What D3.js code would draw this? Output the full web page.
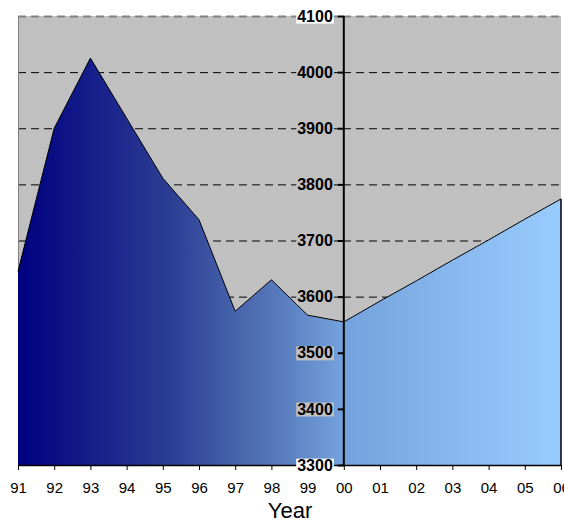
<!DOCTYPE html>
<html>
<head>
<meta charset="utf-8">
<script src="https://cdn.jsdelivr.net/npm/d3@7"></script>
<style>
  html, body { margin: 0; padding: 0; background: #fff; }
  svg { display: block; font-family: Arial, "Liberation Sans", sans-serif; }
</style>
</head>
<body>
<svg id="chart" width="564" height="522"></svg>
<script>
// Yearly values, 1991–2006
const years = ["91","92","93","94","95","96","97","98","99","00","01","02","03","04","05","06"];
const values = [3645, 3900, 4025, 3918, 3811, 3737, 3574, 3630, 3567, 3555, 3592, 3628, 3665, 3701, 3738, 3774];
const yTicks = [3300, 3400, 3500, 3600, 3700, 3800, 3900, 4000, 4100];
const axisYear = "00";

const svg = d3.select("#chart");
const plot = { left: 18, right: 561, top: 16, bottom: 465 };

const x = d3.scalePoint().domain(years).range([plot.left, plot.right]);
const y = d3.scaleLinear().domain([3300, 4100]).range([plot.bottom, plot.top]);

// Horizontal gradient for the area fill
const defs = svg.append("defs");
const grad = defs.append("linearGradient")
  .attr("id", "areaFill")
  .attr("gradientUnits", "userSpaceOnUse")
  .attr("x1", plot.left).attr("x2", plot.right)
  .attr("y1", 0).attr("y2", 0);
[
  [0, "#000080"],
  [0.28, "#2c3e94"],
  [0.45, "#5272b6"],
  [0.6, "#74a2dc"],
  [1, "#99ccff"]
].forEach(([o, c]) => grad.append("stop").attr("offset", o).attr("stop-color", c));

// Plot background
svg.append("rect")
  .attr("x", plot.left).attr("y", plot.top)
  .attr("width", plot.right - plot.left).attr("height", plot.bottom - plot.top)
  .attr("fill", "#c0c0c0");

// Dashed gridlines
svg.append("g")
  .selectAll("line")
  .data(yTicks.filter(d => d > 3300))
  .join("line")
  .attr("x1", plot.left).attr("x2", plot.right)
  .attr("y1", d => y(d) + 0.5).attr("y2", d => y(d) + 0.5)
  .attr("stroke", d => d === 4100 ? "#808080" : "#000")
  .attr("stroke-width", d => d === 4100 ? 2 : 1)
  .attr("stroke-dasharray", "8,5");

// Left border of the plot
svg.append("line")
  .attr("x1", plot.left + 0.5).attr("x2", plot.left + 0.5)
  .attr("y1", plot.top).attr("y2", plot.bottom)
  .attr("stroke", "#808080");

// Area
const area = d3.area()
  .x((d, i) => x(years[i]))
  .y0(plot.bottom)
  .y1(d => y(d));
const line = d3.line()
  .x((d, i) => x(years[i]))
  .y(d => y(d));

svg.append("path")
  .datum(values)
  .attr("d", area)
  .attr("fill", "url(#areaFill)");

svg.append("path")
  .datum(values)
  .attr("d", line)
  .attr("fill", "none")
  .attr("stroke", "#000")
  .attr("stroke-width", 1);

// Right edge of the area
svg.append("line")
  .attr("x1", plot.right).attr("x2", plot.right)
  .attr("y1", y(values[values.length - 1])).attr("y2", plot.bottom)
  .attr("stroke", "#000").attr("stroke-width", 1.5);

// X axis
const xAxis = d3.axisBottom(x).tickSize(5).tickPadding(12);
const gx = svg.append("g")
  .attr("transform", `translate(0,${plot.bottom})`)
  .call(xAxis);
gx.select(".domain").attr("stroke", "#000").attr("stroke-width", 1.5)
  .attr("d", `M${plot.left},0.5H${plot.right}`);
gx.selectAll(".tick line").attr("stroke", "#000");
gx.selectAll(".tick text")
  .attr("font-size", 15)
  .attr("font-family", "Arial, 'Liberation Sans', sans-serif")
  .attr("fill", "#000");

// Y axis at the year 2000 position
const axisX = x(axisYear);
const yAxis = d3.axisLeft(y).tickValues(yTicks).tickSize(6).tickPadding(5).tickFormat(d3.format("d"));
const gy = svg.append("g")
  .attr("transform", `translate(${axisX},0)`)
  .call(yAxis);
gy.select(".domain").remove();
gy.selectAll(".tick line").attr("stroke", "#000").attr("stroke-width", 2);
gy.selectAll(".tick text")
  .attr("font-size", 16)
  .attr("font-weight", "bold")
  .attr("font-family", "Arial, 'Liberation Sans', sans-serif")
  .attr("fill", "#000");

// Label backing boxes
gy.selectAll(".tick").each(function(d) {
  const t = d3.select(this).select("text");
  const bb = t.node().getBBox();
  d3.select(this).insert("rect", "text")
    .attr("x", bb.x - 1).attr("y", bb.y + 2)
    .attr("width", bb.width + 2).attr("height", bb.height - 3)
    .attr("fill", (d === 4100 || d === 3300) ? "#fff" : "#c0c0c0");
});

svg.append("line")
  .attr("x1", axisX).attr("x2", axisX)
  .attr("y1", plot.top).attr("y2", plot.bottom + 1)
  .attr("stroke", "#000").attr("stroke-width", 2);

// Axis title
svg.append("text")
  .attr("x", 290).attr("y", 518)
  .attr("text-anchor", "middle")
  .attr("font-size", 22)
  .attr("fill", "#000")
  .text("Year");
</script>
</body>
</html>
